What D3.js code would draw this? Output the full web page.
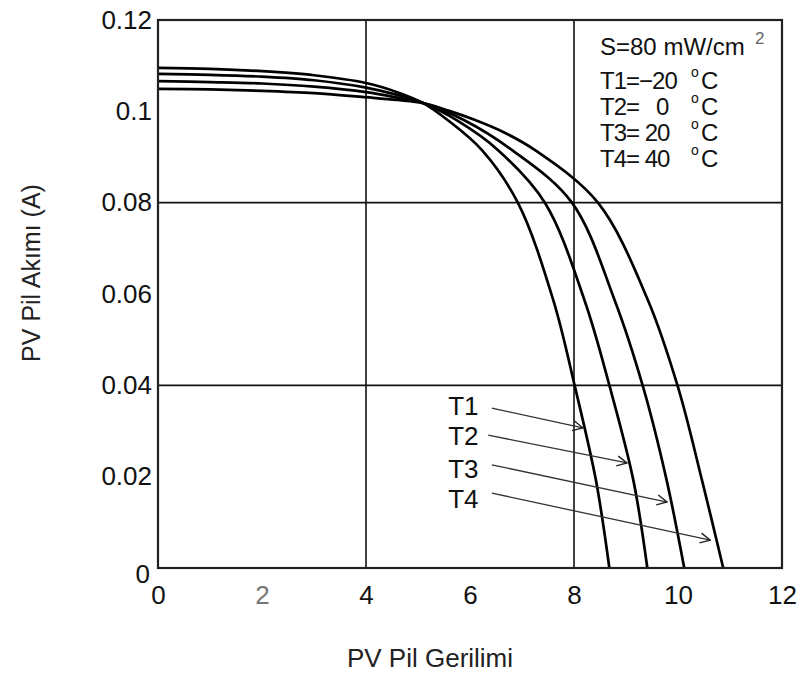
<!DOCTYPE html>
<html>
<head>
<meta charset="utf-8">
<script src="https://cdn.jsdelivr.net/npm/d3@7"></script>
<style>
  html, body { margin: 0; padding: 0; background: #fff; }
  svg text { font-family: "Liberation Sans", Arial, sans-serif; white-space: pre; }
</style>
</head>
<body>
<div id="chart"></div>
<script>
// PV pil I-V eğrileri, S = 80 mW/cm2, dört sıcaklık

/* ---------- data ---------- */
const xTicks = [0, 2, 4, 6, 8, 10, 12];
const yTicks = [0, 0.02, 0.04, 0.06, 0.08, 0.1, 0.12];
const yTickLabels = ["0", "0.02", "0.04", "0.06", "0.08", "0.1", "0.12"];
const gridX = [4, 8];
const gridY = [0.04, 0.08];

const seriesNames = ["T1", "T2", "T3", "T4"];
const legendLines = ["T1=\u221220", "T2=   0", "T3= 20", "T4= 40"];

// [gerilim, akım]
const curveT1 = [[0,0.1095],[1,0.1093],[2,0.1088],[3,0.1079],[4,0.1062],[4.6,0.1042],[5.1,0.1018],
  [5.58,0.098],[6.23,0.0915],[6.92,0.08],[7.6,0.0587],[8.02,0.0396],[8.42,0.0193],[8.68,0]];
const curveT2 = [[0,0.1082],[1,0.1080],[2,0.1076],[3,0.1068],[4,0.1052],[4.6,0.1036],[5.1,0.1018],
  [5.75,0.098],[6.54,0.0915],[7.44,0.08],[8.2,0.0587],[8.69,0.0396],[9.14,0.0193],[9.41,0]];
const curveT3 = [[0,0.1066],[1,0.1064],[2,0.1061],[3,0.1054],[4,0.1042],[4.6,0.1030],[5.1,0.1018],
  [5.9,0.098],[6.81,0.0915],[7.96,0.08],[8.78,0.0587],[9.33,0.0396],[9.78,0.0193],[10.12,0]];
const curveT4 = [[0,0.1049],[1,0.1048],[2,0.1045],[3,0.1040],[4,0.1031],[4.6,0.1025],[5.1,0.1018],
  [5.6,0.1001],[6.1,0.0981],[6.6,0.0957],[7.25,0.0915],[8.46,0.08],[9.42,0.0587],[10.0,0.0396],
  [10.46,0.0193],[10.87,0]];
const curves = [curveT1, curveT2, curveT3, curveT4];

// ok etiketleri: [başlangıç V, I] -> [bitiş V, I]
const arrowFrom = [[6.42,0.0350],[6.35,0.0291],[6.42,0.0226],[6.42,0.0164]];
const arrowTo   = [[8.17,0.0307],[9.02,0.0230],[9.79,0.01445],[10.62,0.0061]];
const arrowLabelPos = [[5.58,0.0335],[5.58,0.0269],[5.58,0.0197],[5.58,0.0131]];

/* ---------- layout ---------- */
const W = 803, H = 673;
const margin = { top: 20, right: 21, bottom: 105, left: 158 };
const iw = W - margin.left - margin.right;
const ih = H - margin.top - margin.bottom;

const svg = d3.select("#chart").append("svg")
  .attr("width", W).attr("height", H);

svg.append("defs").append("marker")
  .attr("id", "arr")
  .attr("viewBox", "0 0 12 12")
  .attr("refX", 11).attr("refY", 6)
  .attr("markerWidth", 12).attr("markerHeight", 12)
  .attr("markerUnits", "userSpaceOnUse")
  .attr("orient", "auto")
  .append("path")
  .attr("d", "M1,1 L11,6 L1,11")
  .attr("fill", "none")
  .attr("stroke", "#222")
  .attr("stroke-width", 1.4);

const g = svg.append("g").attr("transform", `translate(${margin.left},${margin.top})`);

const x = d3.scaleLinear().domain([0, 12]).range([0, iw]);
const y = d3.scaleLinear().domain([0, 0.12]).range([ih, 0]);

// ızgara
g.selectAll("line.gx").data(gridX).join("line")
  .attr("class", "gx")
  .attr("x1", d => x(d)).attr("x2", d => x(d))
  .attr("y1", 0).attr("y2", ih)
  .attr("stroke", "#111").attr("stroke-width", 1.6);
g.selectAll("line.gy").data(gridY).join("line")
  .attr("class", "gy")
  .attr("x1", 0).attr("x2", iw)
  .attr("y1", d => y(d)).attr("y2", d => y(d))
  .attr("stroke", "#111").attr("stroke-width", 1.6);

// eğriler
const line = d3.line()
  .x(d => x(d[0]))
  .y(d => y(d[1]))
  .curve(d3.curveCatmullRom.alpha(0.5));

g.selectAll("path.iv").data(curves).join("path")
  .attr("class", "iv")
  .attr("d", line)
  .attr("fill", "none")
  .attr("stroke", "#000")
  .attr("stroke-width", 2.7);

// çerçeve
g.append("rect")
  .attr("width", iw).attr("height", ih)
  .attr("fill", "none").attr("stroke", "#222").attr("stroke-width", 2.2);

// eksen etiketleri
const xAxis = d3.axisBottom(x).tickValues(xTicks).tickSize(0).tickPadding(18);
const gx = g.append("g").attr("transform", `translate(0,${ih})`).call(xAxis);
gx.select(".domain").remove();
gx.selectAll("text")
  .attr("font-size", 26)
  .attr("fill", d => d === 2 ? "#777" : "#111")
  .attr("font-family", "Liberation Sans, Arial, sans-serif");

const yAxis = d3.axisLeft(y).tickValues(yTicks).tickSize(0).tickPadding(6)
  .tickFormat((d, i) => yTickLabels[i]);
const gy = g.append("g").call(yAxis);
gy.select(".domain").remove();
gy.selectAll("text")
  .attr("font-size", 26)
  .attr("fill", "#111")
  .attr("font-family", "Liberation Sans, Arial, sans-serif");
gy.selectAll(".tick").filter(d => d === 0).select("text")
  .attr("dy", "0.55em").attr("x", -8);

// eksen başlıkları
svg.append("text")
  .attr("x", 430).attr("y", 667)
  .attr("text-anchor", "middle")
  .attr("font-size", 26).attr("fill", "#222")
  .text("PV Pil Gerilimi");
svg.append("text")
  .attr("transform", "translate(40,273) rotate(-90)")
  .attr("text-anchor", "middle")
  .attr("font-size", 25).attr("fill", "#222")
  .text("PV Pil Akımı (A)");

// sağ üst açıklama
const leg = svg.append("g").attr("transform", "translate(600,0)");
leg.append("text").attr("x", 0).attr("y", 55)
  .attr("font-size", 24).attr("fill", "#111")
  .text("S=80 mW/cm");
leg.append("text").attr("x", 155).attr("y", 44)
  .attr("font-size", 17).attr("fill", "#666")
  .text("2");
legendLines.forEach((t, i) => {
  const by = 89 + i * 26;
  leg.append("text").attr("x", 0).attr("y", by)
    .attr("font-size", 24).attr("letter-spacing", -1).attr("fill", "#111").text(t);
  leg.append("text").attr("x", 91).attr("y", by - 12)
    .attr("font-size", 14).attr("fill", "#111").text("o");
  leg.append("text").attr("x", 101).attr("y", by)
    .attr("font-size", 24).attr("fill", "#111").text("C");
});

// oklar ve T etiketleri
g.selectAll("line.arrow").data(arrowFrom).join("line")
  .attr("class", "arrow")
  .attr("x1", d => x(d[0])).attr("y1", d => y(d[1]))
  .attr("x2", (d, i) => x(arrowTo[i][0])).attr("y2", (d, i) => y(arrowTo[i][1]))
  .attr("stroke", "#333").attr("stroke-width", 1.3)
  .attr("marker-end", "url(#arr)");

g.selectAll("text.tl").data(seriesNames).join("text")
  .attr("class", "tl")
  .attr("x", (d, i) => x(arrowLabelPos[i][0]))
  .attr("y", (d, i) => y(arrowLabelPos[i][1]))
  .attr("font-size", 26).attr("fill", "#111")
  .text(d => d);
</script>
</body>
</html>
